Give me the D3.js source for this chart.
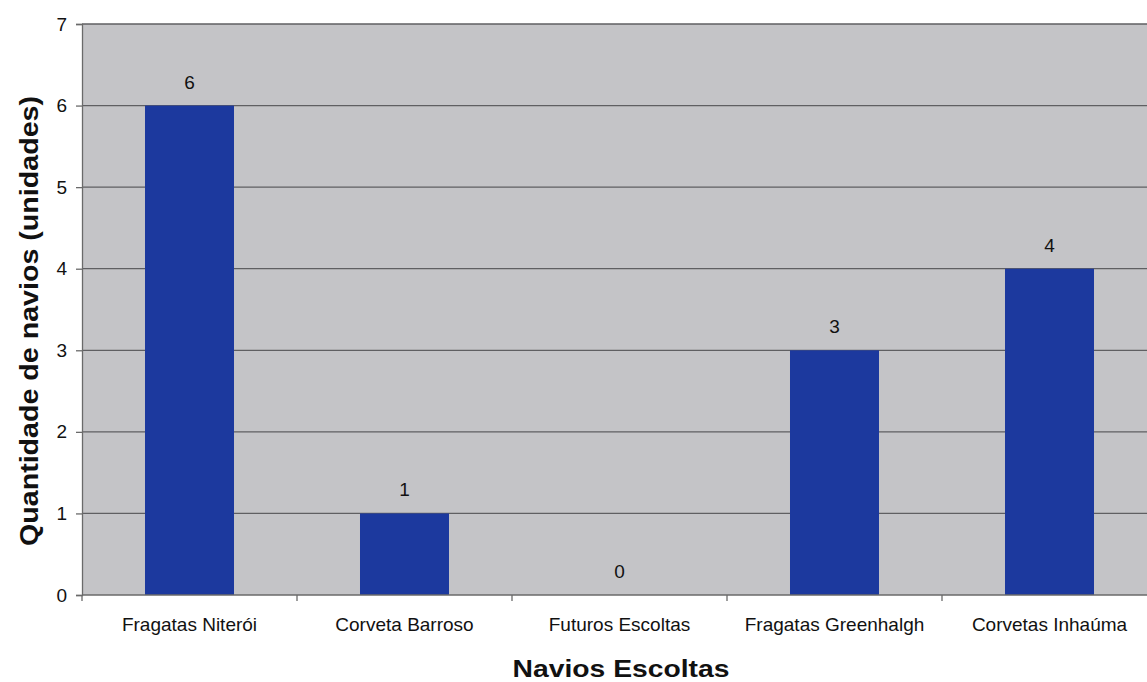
<!DOCTYPE html>
<html>
<head>
<meta charset="utf-8">
<script src="https://cdn.jsdelivr.net/npm/d3@7/dist/d3.min.js"></script>
<style>
  html, body { margin: 0; padding: 0; background: #ffffff; }
  svg { display: block; font-family: "Liberation Sans", Arial, sans-serif; }
</style>
</head>
<body>
<svg id="chart" width="1147" height="682"></svg>
<script>
// Escort ships by class
const categories = ["Fragatas Niterói", "Corveta Barroso", "Futuros Escoltas", "Fragatas Greenhalgh", "Corvetas Inhaúma"];
const shipCounts = [6, 1, 0, 3, 4];
const yTicks = [0, 1, 2, 3, 4, 5, 6, 7];
const xTitle = "Navios Escoltas";
const yTitle = "Quantidade de navios (unidades)";

const svg = d3.select("#chart");
const plot = { left: 82, right: 1157, top: 24, bottom: 595 };
const labelSize = 19;

const x = d3.scaleBand()
  .domain(categories)
  .range([plot.left, plot.right])
  .padding(0);

const y = d3.scaleLinear()
  .domain([0, 7])
  .range([plot.bottom, plot.top]);

const barWidth = x.bandwidth() * 0.414;

// plot area background
svg.append("rect")
  .attr("x", plot.left)
  .attr("y", plot.top)
  .attr("width", plot.right - plot.left)
  .attr("height", plot.bottom - plot.top)
  .attr("fill", "#c4c4c7");

// horizontal gridlines
svg.append("g")
  .selectAll("line")
  .data(yTicks.filter(d => d > 0))
  .join("line")
  .attr("x1", plot.left)
  .attr("x2", plot.right)
  .attr("y1", d => y(d))
  .attr("y2", d => y(d))
  .attr("stroke", "#5f5f62")
  .attr("stroke-width", 1.3);

// bars
svg.append("g")
  .selectAll("rect")
  .data(categories)
  .join("rect")
  .attr("x", (d) => x(d) + (x.bandwidth() - barWidth) / 2)
  .attr("y", (d, i) => y(shipCounts[i]))
  .attr("width", barWidth)
  .attr("height", (d, i) => y(0) - y(shipCounts[i]))
  .attr("fill", "#1c399e");

// value labels above bars
svg.append("g")
  .selectAll("text")
  .data(categories)
  .join("text")
  .attr("x", d => x(d) + x.bandwidth() / 2)
  .attr("y", (d, i) => y(shipCounts[i]) - 17)
  .attr("text-anchor", "middle")
  .attr("font-size", labelSize)
  .attr("fill", "#111")
  .text((d, i) => shipCounts[i]);

// y axis
const yAxis = d3.axisLeft(y)
  .tickValues(yTicks)
  .tickSize(6)
  .tickPadding(9)
  .tickFormat(d3.format("d"));

const gy = svg.append("g")
  .attr("transform", `translate(${plot.left},0)`)
  .call(yAxis);
gy.select(".domain").attr("stroke", "#6a6a6a").attr("stroke-width", 1.3);
gy.selectAll(".tick line").attr("stroke", "#6a6a6a").attr("stroke-width", 1.3);
gy.selectAll(".tick text")
  .attr("font-size", labelSize)
  .attr("fill", "#111")
  .attr("font-family", "Liberation Sans, Arial, sans-serif");

// x axis with ticks at category boundaries
const gx = svg.append("g")
  .attr("transform", `translate(0,${plot.bottom})`);
gx.append("line")
  .attr("x1", plot.left)
  .attr("x2", plot.right)
  .attr("stroke", "#6a6a6a")
  .attr("stroke-width", 1.3);
gx.selectAll("line.tick")
  .data(categories)
  .join("line")
  .attr("class", "tick")
  .attr("x1", d => x(d))
  .attr("x2", d => x(d))
  .attr("y1", 0)
  .attr("y2", 6)
  .attr("stroke", "#6a6a6a")
  .attr("stroke-width", 1.3);
gx.selectAll("text")
  .data(categories)
  .join("text")
  .attr("x", d => x(d) + x.bandwidth() / 2)
  .attr("y", 36)
  .attr("text-anchor", "middle")
  .attr("font-size", labelSize)
  .attr("fill", "#111")
  .text(d => d);

// axis titles
svg.append("text")
  .attr("x", 621)
  .attr("y", 677)
  .attr("text-anchor", "middle")
  .attr("font-size", 24)
  .attr("font-weight", "bold")
  .attr("textLength", 217)
  .attr("lengthAdjust", "spacingAndGlyphs")
  .attr("fill", "#111")
  .text(xTitle);

svg.append("text")
  .attr("transform", `translate(38,321) rotate(-90)`)
  .attr("text-anchor", "middle")
  .attr("font-size", 25)
  .attr("font-weight", "bold")
  .attr("textLength", 450)
  .attr("lengthAdjust", "spacingAndGlyphs")
  .attr("fill", "#111")
  .text(yTitle);
</script>
</body>
</html>
